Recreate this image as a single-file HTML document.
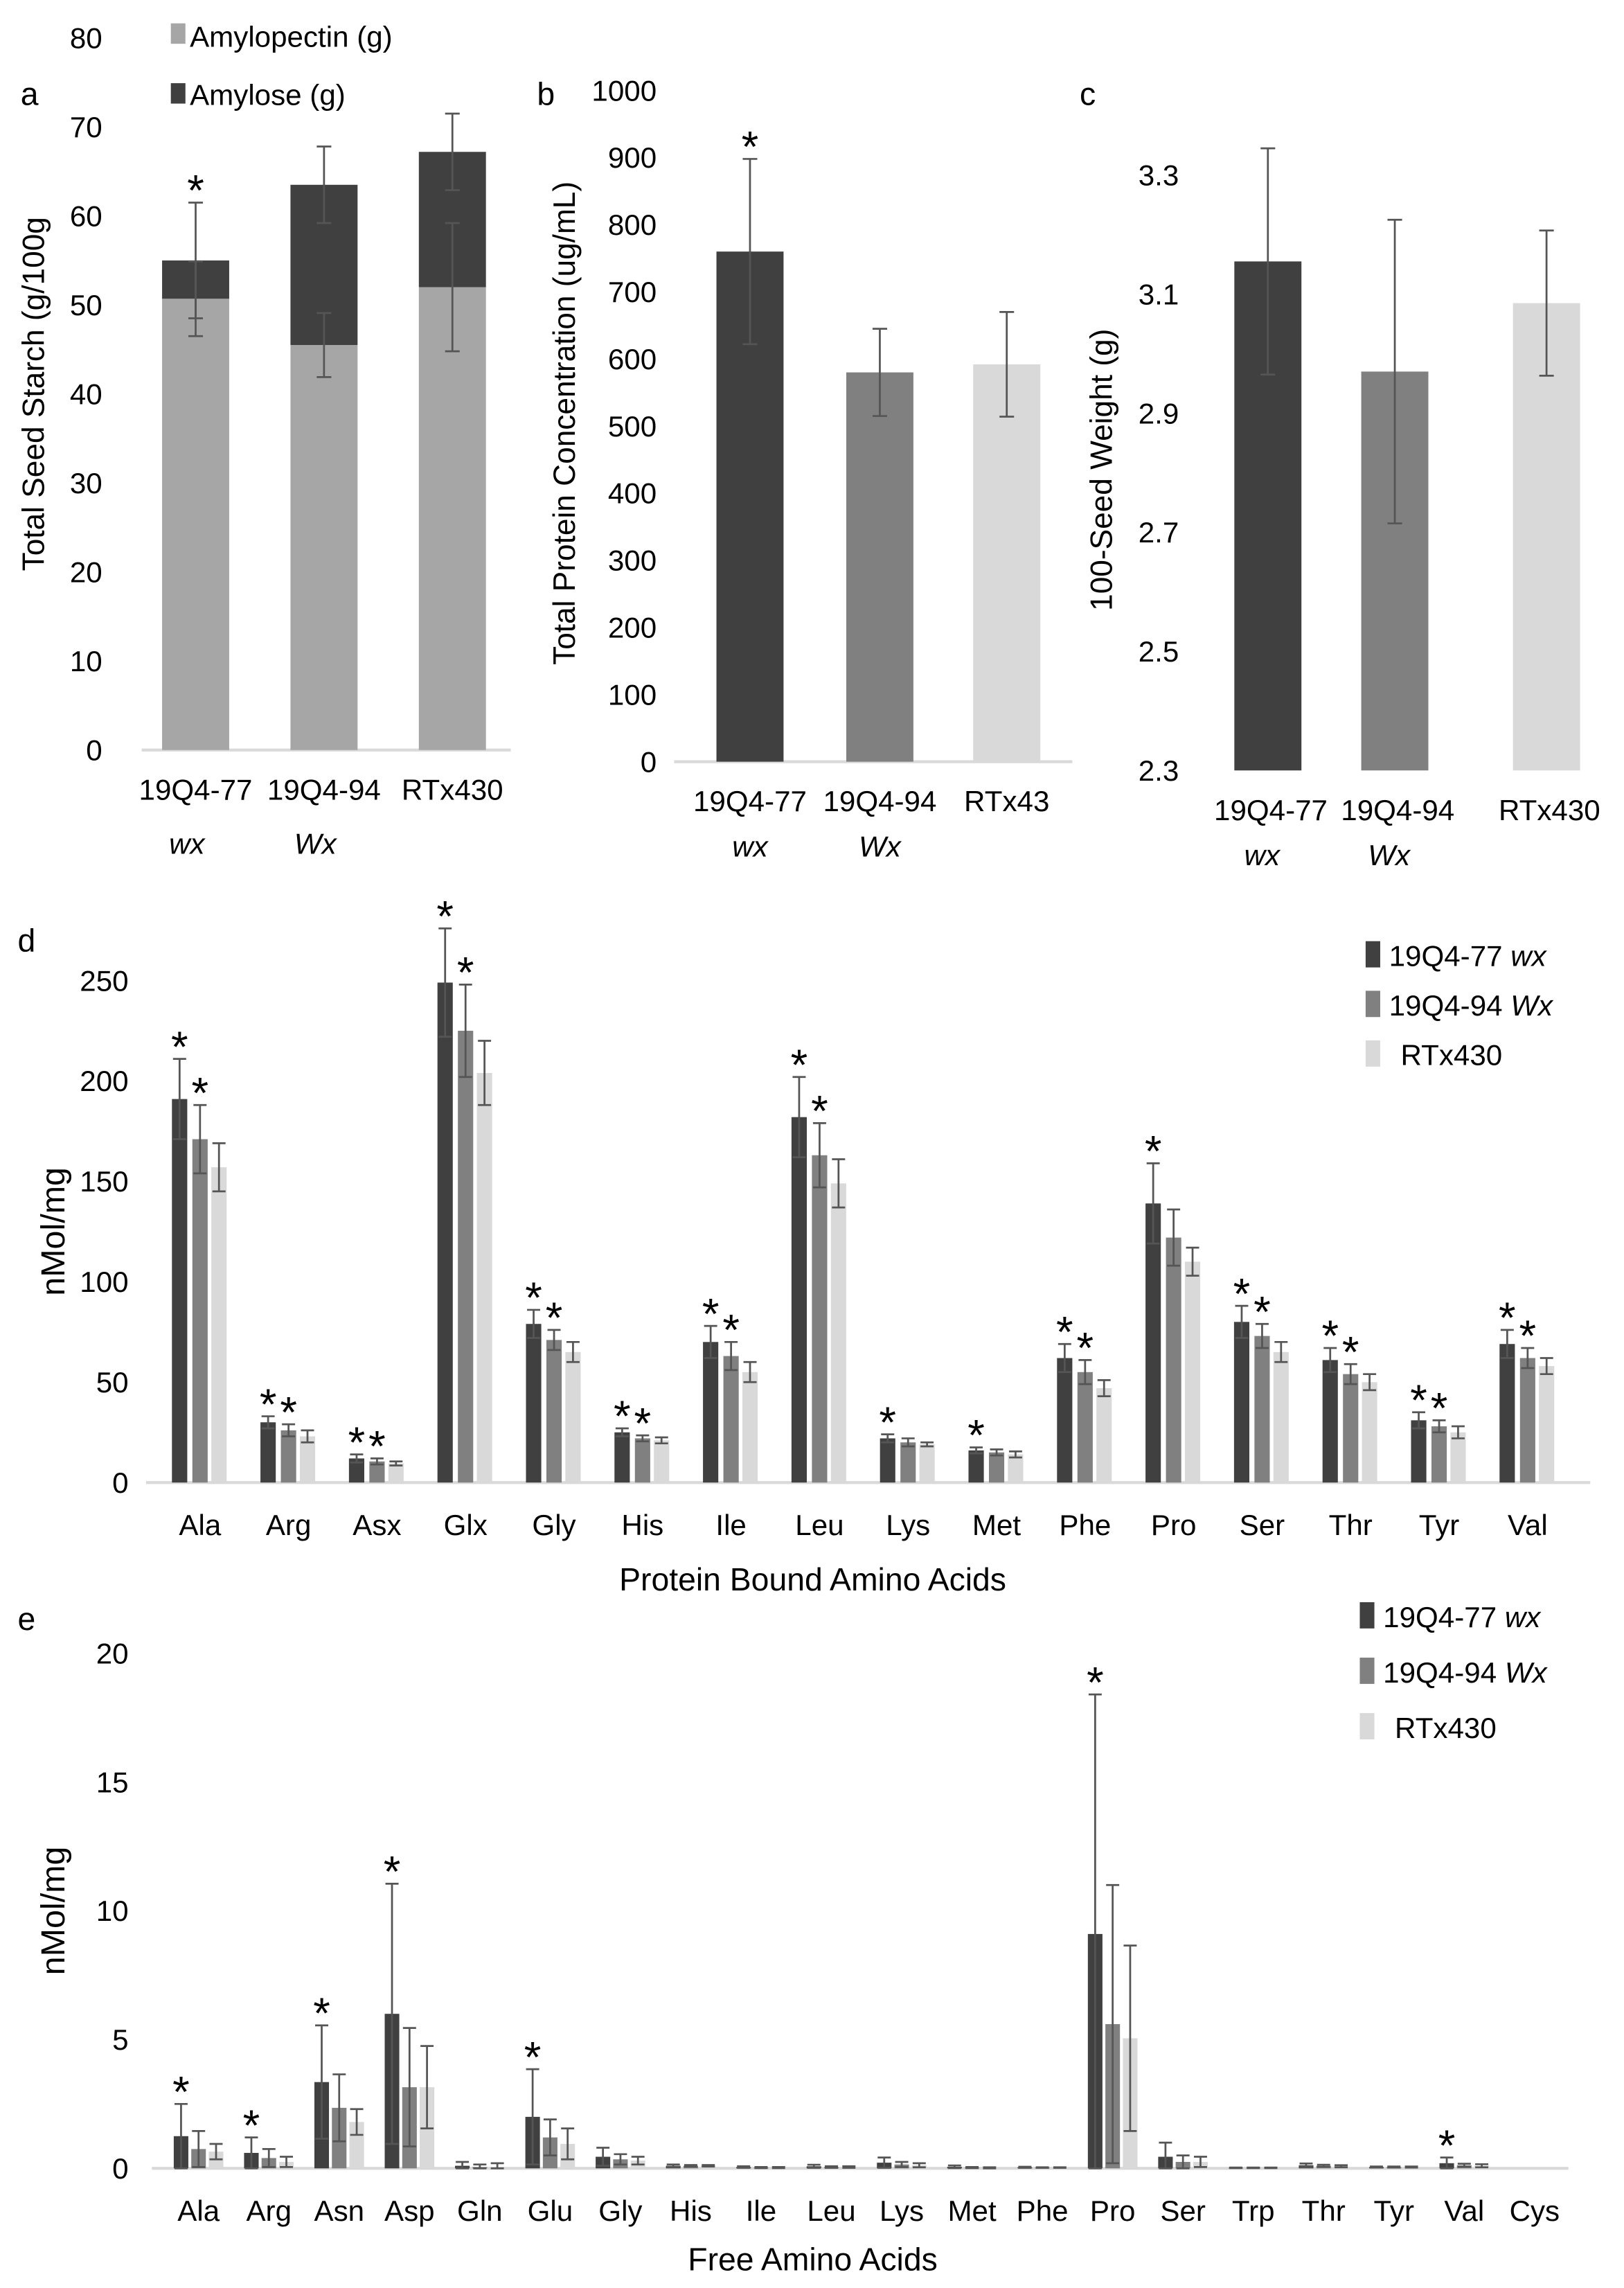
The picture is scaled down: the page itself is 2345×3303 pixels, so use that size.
<!DOCTYPE html>
<html><head><meta charset="utf-8"><style>
html,body{margin:0;padding:0;background:#fff;}
svg{display:block;font-family:"Liberation Sans",Arial,sans-serif;}
</style></head><body>
<svg id="fig" xmlns="http://www.w3.org/2000/svg" width="2345" height="3303" viewBox="0 0 1113 1568"></svg>
<script>
// ---- Panel a data ----
const aCats = ["19Q4-77","19Q4-94","RTx430"];
const aSub = ["wx","Wx",""];
const aAmylopectin = [50.7, 45.5, 52.0];
const aAmylopectinErr = [4.2, 3.6, 7.2];
const aTotal = [55.0, 63.5, 67.2];
const aTotalErr = [6.5, 4.3, 4.3];
const aTicks = [0,10,20,30,40,50,60,70,80];
// ---- Panel b data ----
const bCats = ["19Q4-77","19Q4-94","RTx43"];
const bVals = [760, 580, 592];
const bErr = [138, 65, 78];
const bTicks = [0,100,200,300,400,500,600,700,800,900,1000];
// ---- Panel c data ----
const cCats = ["19Q4-77","19Q4-94","RTx430"];
const cVals = [3.155, 2.97, 3.085];
const cErr = [0.19, 0.255, 0.122];
const cTicks = [2.3,2.5,2.7,2.9,3.1,3.3];
// ---- Panel d data ----
const dCats = ["Ala","Arg","Asx","Glx","Gly","His","Ile","Leu","Lys","Met","Phe","Pro","Ser","Thr","Tyr","Val"];
const dWx = [191,30,12,249,79,25,70,182,22,16,62,139,80,61,31,69];
const dWxErr = [20,3,2,27,7,2,8,20,2,1.5,7,20,8,6,4,7];
const dWX2 = [171,26,10.5,225,71,22,63,163,20,15,55,122,73,54,28,62];
const dWX2Err = [17,3,1.5,23,5,1.5,7,16,2,1.5,6,14,6,5,3,5];
const dRT = [157,23,9.5,204,65,21,55,149,19,14,47,110,65,50,25,58];
const dRTErr = [12,3,1,16,5,1.5,5,12,1,1.5,4,7,5,4,3,4];
const dStarWx = [1,1,1,1,1,1,1,1,1,1,1,1,1,1,1,1];
const dStarWX2 = [1,1,1,1,1,1,1,1,0,0,1,0,1,1,1,1];
const dTicks = [0,50,100,150,200,250];
// ---- Panel e data ----
const eCats = ["Ala","Arg","Asn","Asp","Gln","Glu","Gly","His","Ile","Leu","Lys","Met","Phe","Pro","Ser","Trp","Thr","Tyr","Val","Cys"];
const eWx = [1.25,0.6,3.35,6.0,0.1,2.0,0.45,0.1,0.05,0.08,0.22,0.06,0.04,9.1,0.45,0.02,0.12,0.05,0.2,0];
const eWxErr = [1.25,0.6,2.2,5.05,0.15,1.85,0.35,0.05,0.03,0.06,0.2,0.05,0.02,9.3,0.55,0.01,0.07,0.02,0.22,0];
const eWX2 = [0.75,0.4,2.35,3.15,0.05,1.2,0.35,0.1,0.03,0.05,0.15,0.03,0.03,5.6,0.25,0.02,0.1,0.05,0.12,0];
const eWX2Err = [0.7,0.35,1.3,2.3,0.1,0.7,0.2,0.03,0.02,0.03,0.1,0.02,0.01,5.4,0.25,0.01,0.04,0.02,0.06,0];
const eRT = [0.65,0.25,1.8,3.15,0.05,0.95,0.3,0.1,0.03,0.05,0.12,0.02,0.03,5.05,0.25,0.02,0.08,0.05,0.1,0];
const eRTErr = [0.3,0.2,0.5,1.6,0.15,0.6,0.15,0.03,0.02,0.03,0.08,0.02,0.01,3.6,0.2,0.01,0.04,0.02,0.06,0];
const eStar = [1,1,1,1,0,1,0,0,0,0,0,0,0,1,0,0,0,0,1,0];
const eTicks = [0,5,10,15,20];

const NS="http://www.w3.org/2000/svg";
const svg=document.getElementById('fig');
const C1="#404040",C2="#808080",C3="#d9d9d9",CA="#a6a6a6",ERR="#555";
function mk(tag,attrs,parent){const e=document.createElementNS(NS,tag);for(const k in attrs)e.setAttribute(k,attrs[k]);(parent||svg).appendChild(e);return e;}
function txt(s,x,y,size,anchor,parent,extra){const t=mk('text',Object.assign({x:x,y:y,'font-size':size,'text-anchor':anchor||'middle',fill:'#000'},extra||{}),parent);t.textContent=s;return t;}
function grp(name){const g=mk('g',{});return g;}
function errbar(g,x,y1,y2,cap){const p=mk('path',{d:`M${x-cap} ${y1}H${x+cap}M${x} ${y1}V${y2}M${x-cap} ${y2}H${x+cap}`,stroke:ERR,'stroke-width':1.3,fill:'none'},g);}
function star(g,x,y){const t=txt('*',x,y+6,30,'middle',g);}

// ===== Panel a =====
(function(){
const g=grp('panel-a');
const y0=514, ppu=6.1; const Y=v=>y0-v*ppu;
aTicks.forEach(t=>{const l=txt(String(t),70,Y(t)+7,20,'end',g);});
const ax=mk('line',{x1:97,x2:350,y1:y0,y2:y0,stroke:C3,'stroke-width':2},g);
const xs=[134,222,310], w=46;
aCats.forEach((c,i)=>{
 const r1=mk('rect',{x:xs[i]-w/2,y:Y(aAmylopectin[i]),width:w,height:aAmylopectin[i]*ppu,fill:CA},g);
 const r2=mk('rect',{x:xs[i]-w/2,y:Y(aTotal[i]),width:w,height:(aTotal[i]-aAmylopectin[i])*ppu,fill:C1},g);
 errbar(g,xs[i],Y(aAmylopectin[i]+aAmylopectinErr[i]),Y(aAmylopectin[i]-aAmylopectinErr[i]),5);
 errbar(g,xs[i],Y(aTotal[i]+aTotalErr[i]),Y(aTotal[i]-aTotalErr[i]),5);
 const l=txt(c,xs[i],y0+34,20,'middle',g);
 if(aSub[i]){const s=txt(aSub[i],xs[i]-6,y0+71,20,'middle',g,{'font-style':'italic'});}
});
star(g,xs[0],Y(aTotal[0]+aTotalErr[0])-4);
const t=txt('Total Seed Starch (g/100g',30,270,21,'middle',g,{transform:'rotate(-90 30 270)'});
const pl=txt('a',14,72,22,'start',g);
const s1=mk('rect',{x:117,y:16,width:10,height:14,fill:CA},g);
const l1=txt('Amylopectin (g)',130,32,20,'start',g);
const s2=mk('rect',{x:117,y:57,width:10,height:14,fill:C1},g);
const l2=txt('Amylose (g)',130,72,20,'start',g);
})();

// ===== Panel b =====
(function(){
const g=grp('panel-b');
const y0=522, ppu=0.46; const Y=v=>y0-v*ppu;
bTicks.forEach(t=>{const l=txt(String(t),450,Y(t)+7,20,'end',g);});
const ax=mk('line',{x1:462,x2:735,y1:y0,y2:y0,stroke:C3,'stroke-width':2},g);
const xs=[514,603,690], w=46, cols=[C1,C2,C3], sub=['wx','Wx',''];
bCats.forEach((c,i)=>{
 const r=mk('rect',{x:xs[i]-w/2,y:Y(bVals[i]),width:w,height:bVals[i]*ppu,fill:cols[i]},g);
 errbar(g,xs[i],Y(bVals[i]+bErr[i]),Y(bVals[i]-bErr[i]),5);
 const l=txt(c,xs[i],y0+34,20,'middle',g);
 if(sub[i]){const s=txt(sub[i],xs[i],y0+65,20,'middle',g,{'font-style':'italic'});}
});
star(g,xs[0],Y(bVals[0]+bErr[0])-4);
const t=txt('Total Protein Concentration (ug/mL)',394,290,21,'middle',g,{transform:'rotate(-90 394 290)'});
const pl=txt('b',368,72,22,'start',g);
})();

// ===== Panel c =====
(function(){
const g=grp('panel-c');
const y0=528, ppu=408; const Y=v=>y0-(v-2.3)*ppu;
cTicks.forEach(t=>{const l=txt(t.toFixed(1),808,Y(t)+7,20,'end',g);});
const xs=[869,956,1060], w=46, cols=[C1,C2,C3], sub=['wx','Wx',''];
cCats.forEach((c,i)=>{
 const r=mk('rect',{x:xs[i]-w/2,y:Y(cVals[i]),width:w,height:(cVals[i]-2.3)*ppu,fill:cols[i]},g);
 errbar(g,xs[i],Y(cVals[i]+cErr[i]),Y(cVals[i]-cErr[i]),5);
 const l=txt(c,xs[i]+2,y0+34,20,'middle',g);
 if(sub[i]){const s=txt(sub[i],xs[i]-4,y0+65,20,'middle',g,{'font-style':'italic'});}
});
const t=txt('100-Seed Weight (g)',762,322,21,'middle',g,{transform:'rotate(-90 762 322)'});
const pl=txt('c',740,72,22,'start',g);
})();

function groupChart(name,cats,s1,e1,s2,e2,s3,e3,stars1,stars2,ticks,y0,ppu,x0,step,off,w,xmin,xmax,title,titleY,label,labelY,legY,legGap,legX){
 const g=grp(name);
 const Y=v=>y0-v*ppu;
 ticks.forEach(t=>{const l=txt(String(t),88,Y(t)+7,20,'end',g);});
 const ax=mk('line',{x1:xmin,x2:xmax,y1:y0,y2:y0,stroke:C3,'stroke-width':2},g);
 const series=[[s1,e1,C1,stars1],[s2,e2,C2,stars2],[s3,e3,C3,null]];
 cats.forEach((c,i)=>{
  const cx=x0+i*step;
  series.forEach((s,k)=>{
   const bx=cx+off[k], v=s[0][i], er=s[1][i];
   const r=mk('rect',{x:bx-w/2,y:Y(v),width:w,height:v*ppu,fill:s[2]},g);
   if(er>0)errbar(g,bx,Y(v+er),Y(Math.max(0,v-er)),4.5);
   if(s[3]&&s[3][i])star(g,bx,Y(v+er)-4);
  });
  const l=txt(c,cx,y0+36,20,'middle',g);
 });
 const my=(y0+Y(ticks[ticks.length-1]))/2;
 const t=txt('nMol/mg',44,my,23,'middle',g,{transform:`rotate(-90 44 ${my})`});
 const xt=txt(title,557,titleY,22,'middle',g);
 const pl=txt(label,12,labelY,22,'start',g);
 const leg=[['19Q4-77 ','wx',C1],['19Q4-94 ','Wx',C2],[' RTx430','',C3]];
 leg.forEach((L,k)=>{
  const yy=legY+k*legGap;
  const sw=mk('rect',{x:legX,y:yy-17,width:10,height:18,fill:L[2]},g);
  const tt=txt('',legX+16+(k==2?8:0),yy,20,'start',g);
  const a=mk('tspan',{},tt);a.textContent=L[0].trim()+(L[1]?' ':'');
  if(L[1]){const b=mk('tspan',{'font-style':'italic'},tt);b.textContent=L[1];}
 });
}
groupChart('panel-d',dCats,dWx,dWxErr,dWX2,dWX2Err,dRT,dRTErr,dStarWx,dStarWX2,dTicks,1016,1.376,137,60.67,[-14,0,13],10.5,100,1090,'Protein Bound Amino Acids',1090,'d',652,662,34,936);
groupChart('panel-e',eCats,eWx,eWxErr,eWX2,eWX2Err,eRT,eRTErr,eStar,null,eTicks,1486,17.65,136,48.2,[-12,0,12],10,104,1075,'Free Amino Acids',1556,'e',1117,1115,38,932);
</script>
</body></html>
